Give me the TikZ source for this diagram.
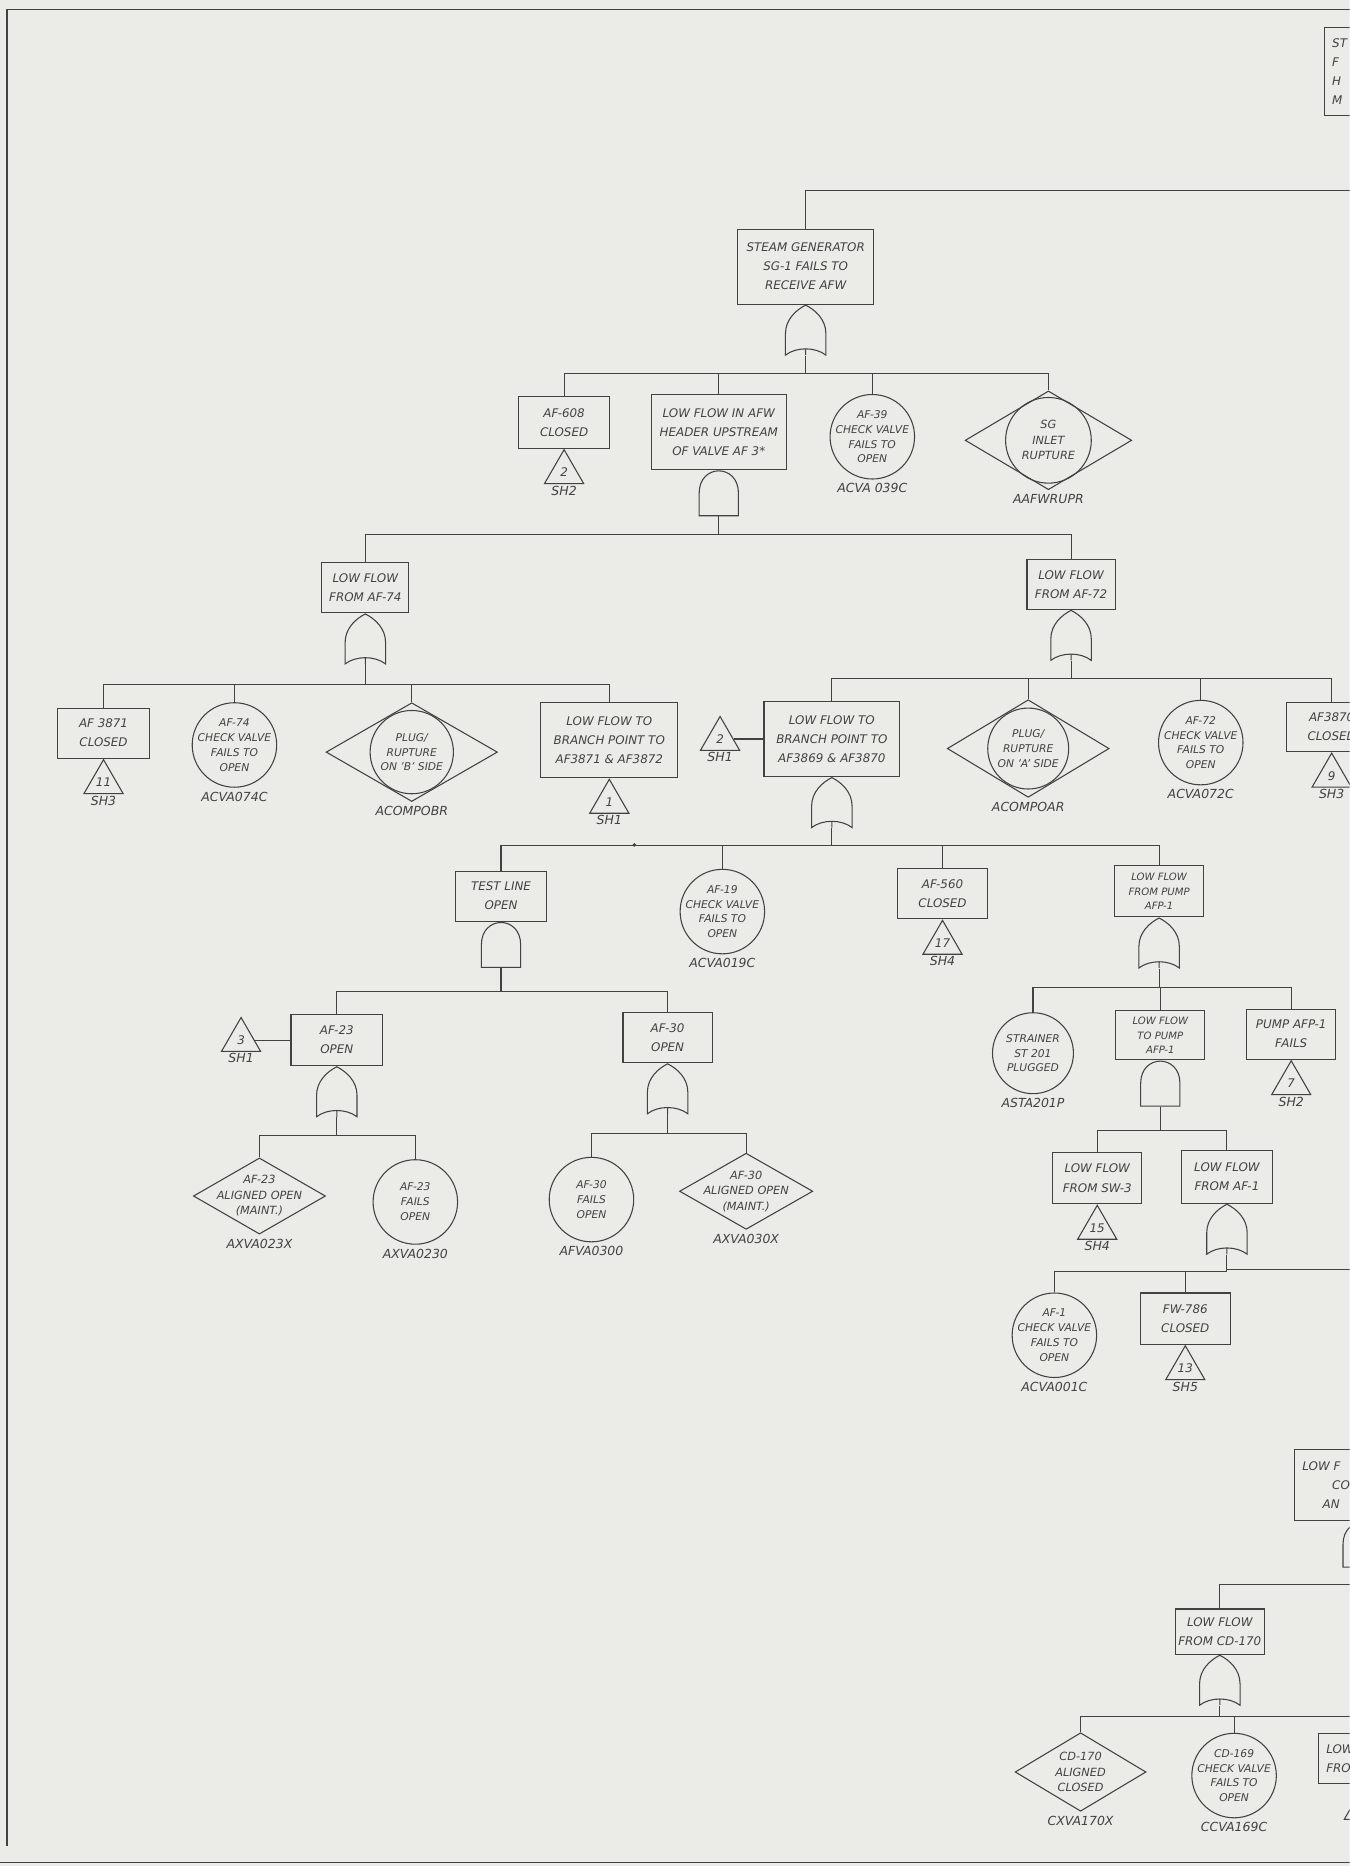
\documentclass[tikz,border=0pt]{standalone}
\usepackage{fontspec}
\setmainfont{DejaVu Sans}
\usetikzlibrary{positioning,shapes.geometric}

\definecolor{paper}{RGB}{235,235,232}
\definecolor{ink}{RGB}{66,66,66}

\newcommand{\boxfont}{\itshape\fontsize{10}{16}\selectfont}
\newcommand{\tightfont}{\itshape\fontsize{8.5}{12.5}\selectfont}
\newcommand{\evfont}{\itshape\fontsize{9}{12.5}\selectfont}
\newcommand{\diamfont}{\itshape\fontsize{9.5}{13}\selectfont}
\newcommand{\codefont}{\itshape\fontsize{10.5}{12}\selectfont}
\newcommand{\numfont}{\itshape\fontsize{10}{11}\selectfont}

% gate symbols, drawn over an empty node
\newcommand{\orshape}[1]{%
  \draw[shift={(#1.center)}] (-17,21) -- (-17,3)
    .. controls (-17,-9) and (-8,-17) .. (0,-21)
    .. controls (8,-17) and (17,-9) .. (17,3) -- (17,21)
    .. controls (8,14) and (-8,14) .. (-17,21) -- cycle
    (0,15.75) -- (0,21);}
\newcommand{\andshape}[1]{%
  \draw[shift={(#1.center)}] (-16.5,19) -- (-16.5,0)
    .. controls (-16.5,-25) and (16.5,-25) .. (16.5,0) -- (16.5,19) -- cycle;}
% down from a gate, along the bar, down to each child
\newcommand{\branch}[3]{%
  \foreach \kid in {#3} {\draw (#1.south) -- ++(0,#2) -| (\kid.north);}}

\begin{document}
\begin{tikzpicture}[x=1pt, y=-1pt, line width=0.9pt, color=ink,
    evbox/.style={draw, rectangle, inner sep=2pt, align=center, font=\boxfont},
    evcirc/.style={draw, circle, minimum size=71pt, inner sep=-10pt, align=center, font=\evfont},
    evdiam/.style={draw, diamond, inner sep=-14pt, align=center, font=\diamfont},
    xfer/.style={draw, regular polygon, regular polygon sides=3, minimum size=38pt, inner sep=0pt, font=\numfont},
    code/.style={inner sep=1pt, font=\codefont},
    orgate/.style={minimum width=34pt, minimum height=42pt, inner sep=0pt},
    andgate/.style={minimum width=33pt, minimum height=38pt, inner sep=0pt}]

    \useasboundingbox (0,0) rectangle (1134,1568);
    \clip (0,0) rectangle (1134,1568);
    \fill[paper] (0,0) rectangle (1134,1568);

    % sheet border
    \draw[line width=1.2pt] (6,1551) -- (6,8) -- (1134,8);
    \draw[line width=1.2pt] (0,1565) -- (1134,1565);

    % sheet title box (cut at the edge)
    \node[evbox, minimum width=78pt, minimum height=74pt] (sheet) at (1152,60) {};
    \node[anchor=west, align=left, font=\boxfont, inner sep=0pt] (sheettxt) at (1119,60) {ST\\F\\H\\M};

    % top event
    \node[evbox, minimum width=114pt, minimum height=63pt] (sg) at (677,224) {STEAM GENERATOR\\SG-1 FAILS TO\\RECEIVE AFW};
    \coordinate (offsg) at (1140,160);
    \draw (sg.north) |- (offsg);
    \node[orgate, below=0pt of sg] (sgor) {}; \orshape{sgor}

    % under the top event
    \node[evbox, minimum width=76pt, minimum height=43pt] (af608) at (474,355) {AF-608\\CLOSED};
    \node[xfer, below=0pt of af608] (t608) {2};
    \node[code, below=0pt of t608] (t608s) {SH2};
    \node[evbox, minimum width=113pt, minimum height=63pt] (hdr) at (604,363) {LOW FLOW IN AFW\\HEADER UPSTREAM\\OF VALVE AF 3*};
    \node[andgate, below=0pt of hdr] (hdrand) {}; \andshape{hdrand}
    \node[evcirc] (af39) at (733,367) {AF-39\\CHECK VALVE\\FAILS TO\\OPEN};
    \node[code, below=2pt of af39] (af39c) {ACVA 039C};
    \node[evdiam, minimum width=140pt, minimum height=83pt] (sgr) at (881,370) {SG\\INLET\\RUPTURE};
    \draw (sgr.center) circle (36pt);
    \node[code, below=2pt of sgr] (sgrc) {AAFWRUPR};
    \branch{sgor}{15}{af608,hdr,af39,sgr}

    % low flow from AF-74 / AF-72
    \node[evbox, minimum width=73pt, minimum height=42pt] (af74) at (307,494) {LOW FLOW\\FROM AF-74};
    \node[orgate, below=0pt of af74] (af74or) {}; \orshape{af74or}
    \node[evbox, minimum width=74pt, minimum height=42pt] (af72) at (900,491) {LOW FLOW\\FROM AF-72};
    \node[orgate, below=0pt of af72] (af72or) {}; \orshape{af72or}
    \branch{hdrand}{15}{af74,af72}

    \node[evbox, minimum width=77pt, minimum height=42pt] (af3871) at (87,616) {AF 3871\\CLOSED};
    \node[xfer, below=0pt of af3871] (t3871) {11};
    \node[code, below=0pt of t3871] (t3871s) {SH3};
    \node[evcirc] (af74c) at (197,626) {AF-74\\CHECK VALVE\\FAILS TO\\OPEN};
    \node[code, below=2pt of af74c] (af74cc) {ACVA074C};
    \node[evdiam, minimum width=144pt, minimum height=83pt, font=\evfont] (plugb) at (346,632) {PLUG/\\RUPTURE\\ON 'B' SIDE};
    \draw (plugb.center) circle (35pt);
    \node[code, below=2pt of plugb] (plugbc) {ACOMPOBR};
    \node[evbox, minimum width=115pt, minimum height=63pt] (br1) at (512,622) {LOW FLOW TO\\BRANCH POINT TO\\AF3871 \& AF3872};
    \node[xfer, below=0pt of br1] (tbr1) {1};
    \node[code, below=0pt of tbr1] (tbr1s) {SH1};
    \branch{af74or}{17}{af3871,af74c,plugb,br1}

    \node[evbox, minimum width=114pt, minimum height=63pt] (br2) at (699,621) {LOW FLOW TO\\BRANCH POINT TO\\AF3869 \& AF3870};
    \node[xfer, left=25pt of br2] (tbr2) {2};
    \node[code, below=0pt of tbr2] (tbr2s) {SH1};
    \draw (tbr2.east) -- (br2.west);
    \node[orgate, below=0pt of br2] (br2or) {}; \orshape{br2or}
    \node[evdiam, minimum width=136pt, minimum height=82pt, font=\evfont] (pluga) at (864,629) {PLUG/\\RUPTURE\\ON 'A' SIDE};
    \draw (pluga.center) circle (34pt);
    \node[code, below=2pt of pluga] (plugac) {ACOMPOAR};
    \node[evcirc] (af72c) at (1009,624) {AF-72\\CHECK VALVE\\FAILS TO\\OPEN};
    \node[code, below=2pt of af72c] (af72cc) {ACVA072C};
    \node[evbox, minimum width=76pt, minimum height=41pt] (af3870) at (1119,611) {AF3870\\CLOSED};
    \node[xfer, below=0pt of af3870] (t3870) {9};
    \node[code, below=0pt of t3870] (t3870s) {SH3};
    \branch{af72or}{15}{br2,pluga,af72c,af3870}

    % branch point AF3869 / AF3870
    \node[evbox, minimum width=77pt, minimum height=42pt] (test) at (421,753) {TEST LINE\\OPEN};
    \node[andgate, below=0pt of test] (testand) {}; \andshape{testand}
    \node[evcirc] (af19) at (607,766) {AF-19\\CHECK VALVE\\FAILS TO\\OPEN};
    \node[code, below=2pt of af19] (af19c) {ACVA019C};
    \node[evbox, minimum width=76pt, minimum height=42pt] (af560) at (792,751) {AF-560\\CLOSED};
    \node[xfer, below=0pt of af560] (t560) {17};
    \node[code, below=0pt of t560] (t560s) {SH4};
    \node[evbox, minimum width=75pt, minimum height=43pt, font=\tightfont] (afp) at (974,749) {LOW FLOW\\FROM PUMP\\AFP-1};
    \node[orgate, below=0pt of afp] (afpor) {}; \orshape{afpor}
    \branch{br2or}{15}{test,af19,af560,afp}
    \fill (533,710) circle (1.6pt);

    % test line
    \node[evbox, minimum width=77pt, minimum height=43pt] (af23) at (283,874) {AF-23\\OPEN};
    \node[xfer, left=30pt of af23] (t23) {3};
    \node[code, below=0pt of t23] (t23s) {SH1};
    \draw (t23.east) -- (af23.west);
    \node[orgate, below=0pt of af23] (af23or) {}; \orshape{af23or}
    \node[evbox, minimum width=75pt, minimum height=42pt] (af30) at (561,872) {AF-30\\OPEN};
    \node[orgate, below=0pt of af30] (af30or) {}; \orshape{af30or}
    \branch{testand}{20}{af23,af30}

    \node[evdiam, minimum width=111pt, minimum height=64pt] (af23x) at (218,1005) {AF-23\\ALIGNED OPEN\\(MAINT.)};
    \node[code, below=2pt of af23x] (af23xc) {AXVA023X};
    \node[evcirc] (af23c) at (349,1010) {AF-23\\FAILS\\OPEN};
    \node[code, below=2pt of af23c] (af23cc) {AXVA0230};
    \branch{af23or}{15}{af23x,af23c}
    \node[evcirc] (af30c) at (497,1008) {AF-30\\FAILS\\OPEN};
    \node[code, below=2pt of af30c] (af30cc) {AFVA0300};
    \node[evdiam, minimum width=112pt, minimum height=64pt] (af30x) at (627,1001) {AF-30\\ALIGNED OPEN\\(MAINT.)};
    \node[code, below=2pt of af30x] (af30xc) {AXVA030X};
    \branch{af30or}{16}{af30c,af30x}

    % pump AFP-1
    \node[evcirc, minimum size=68pt] (st201) at (868,885) {STRAINER\\ST 201\\PLUGGED};
    \node[code, below=2pt of st201] (st201c) {ASTA201P};
    \node[evbox, minimum width=75pt, minimum height=41pt, font=\tightfont] (topump) at (975,870) {LOW FLOW\\TO PUMP\\AFP-1};
    \node[andgate, below=0pt of topump] (topumpand) {}; \andshape{topumpand}
    \node[evbox, minimum width=75pt, minimum height=42pt] (pump) at (1085,869) {PUMP AFP-1\\FAILS};
    \node[xfer, below=0pt of pump] (tpump) {7};
    \node[code, below=0pt of tpump] (tpumps) {SH2};
    \branch{afpor}{16}{st201,topump,pump}

    \node[evbox, minimum width=75pt, minimum height=43pt] (sw3) at (922,990) {LOW FLOW\\FROM SW-3};
    \node[xfer, below=0pt of sw3] (tsw3) {15};
    \node[code, below=0pt of tsw3] (tsw3s) {SH4};
    \node[evbox, minimum width=76pt, minimum height=44pt] (af1) at (1031,989) {LOW FLOW\\FROM AF-1};
    \node[orgate, below=0pt of af1] (af1or) {}; \orshape{af1or}
    \branch{topumpand}{20}{sw3,af1}

    \node[evcirc] (af1c) at (886,1122) {AF-1\\CHECK VALVE\\FAILS TO\\OPEN};
    \node[code, below=2pt of af1c] (af1cc) {ACVA001C};
    \node[evbox, minimum width=76pt, minimum height=43pt] (fw786) at (996,1108) {FW-786\\CLOSED};
    \node[xfer, below=0pt of fw786] (t786) {13};
    \node[code, below=0pt of t786] (t786s) {SH5};
    \coordinate (offaf1) at (1140,1067);
    \branch{af1or}{14}{af1c,fw786}
    \draw (af1or.south) |- (offaf1);

    % lower right (cut at the edge)
    \node[evbox, minimum width=115pt, minimum height=60pt] (cdbox) at (1145,1248) {};
    \node[anchor=west, align=left, font=\boxfont, inner sep=0pt] (cdtxt) at (1094,1248) {LOW F\\\hspace*{25pt}CO\\\hspace*{17pt}AN};
    \node[andgate, below=0pt of cdbox] (cdand) {}; \andshape{cdand}
    \node[evbox, minimum width=75pt, minimum height=38pt] (cd170) at (1025,1371) {LOW FLOW\\FROM CD-170};
    \coordinate (offcd) at (1140,1330);
    \branch{cdand}{14}{cd170}
    \draw (cdand.south) |- (offcd);
    \node[orgate, below=0pt of cd170] (cd170or) {}; \orshape{cd170or}

    \node[evdiam, minimum width=110pt, minimum height=66pt] (cd170x) at (908,1489) {CD-170\\ALIGNED\\CLOSED};
    \node[code, below=2pt of cd170x] (cd170xc) {CXVA170X};
    \node[evcirc] (cd169c) at (1037,1492) {CD-169\\CHECK VALVE\\FAILS TO\\OPEN};
    \node[code, below=2pt of cd169c] (cd169cc) {CCVA169C};
    \node[evbox, minimum width=76pt, minimum height=42pt] (lowfro) at (1146,1478) {};
    \node[anchor=west, align=left, font=\boxfont, inner sep=0pt] (lowfrotxt) at (1114,1478) {LOW\\FRO};
    \node[xfer, below=0pt of lowfro] (tlowfro) {};
    \branch{cd170or}{9}{cd170x,cd169c,lowfro}

\end{tikzpicture}
\end{document}
